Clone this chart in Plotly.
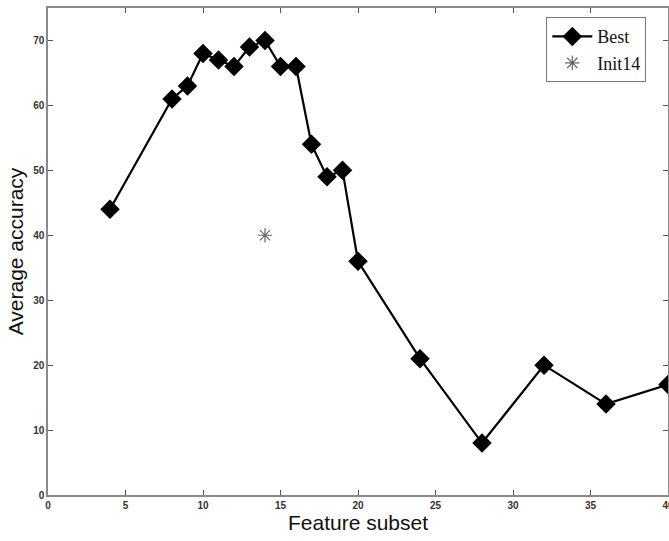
import plotly.graph_objects as go

# Best accuracy per feature subset size
subset_sizes = [4, 8, 9, 10, 11, 12, 13, 14, 15, 16, 17, 18, 19, 20, 24, 28, 32, 36, 40]
best_accuracy = [44, 61, 63, 68, 67, 66, 69, 70, 66, 66, 54, 49, 50, 36, 21, 8, 20, 14, 17]

# Initial configuration with 14 features
init_size = [14]
init_accuracy = [40]

x_ticks = [0, 5, 10, 15, 20, 25, 30, 35, 40]
y_ticks = [0, 10, 20, 30, 40, 50, 60, 70]

fig = go.Figure()
fig.add_trace(go.Scatter(
    x=subset_sizes, y=best_accuracy, name="Best",
    mode="lines+markers",
    line=dict(color="black", width=2.2),
    marker=dict(symbol="diamond", size=15, color="black"),
    cliponaxis=False,
))
fig.add_trace(go.Scatter(
    x=init_size, y=init_accuracy, name="Init14",
    mode="markers",
    marker=dict(symbol="asterisk-open", size=12, color="#666666",
                line=dict(color="#666666", width=1.2)),
))

axis_common = dict(
    showgrid=False, zeroline=False,
    showline=True, linecolor="#8a8a8a", linewidth=1.5, mirror="ticks",
    ticks="inside", ticklen=5, tickcolor="#555555", tickwidth=1,
    tickfont=dict(family="Liberation Sans, Arial", size=10, color="#333333", weight="bold"),
    ticklabeloverflow="allow",
    automargin=False,
)

fig.update_xaxes(
    range=[0, 40], tickvals=x_ticks, ticktext=[str(v) for v in x_ticks],
    title=dict(text="Feature subset", font=dict(family="Liberation Sans, Arial", size=21, color="#111111"), standoff=6),
    **axis_common,
)
fig.update_yaxes(
    range=[0, 75], tickvals=y_ticks, ticktext=[str(v) for v in y_ticks],
    title=dict(text="Average accuracy", font=dict(family="Liberation Sans, Arial", size=21, color="#111111"), standoff=4),
    **axis_common,
)

fig.update_layout(
    width=669, height=541,
    margin=dict(l=48, r=1, t=8, b=46),
    plot_bgcolor="white", paper_bgcolor="white",
    legend=dict(
        x=0.965, y=0.981, xanchor="right", yanchor="top",
        bgcolor="white", bordercolor="#777777", borderwidth=1,
        font=dict(family="Liberation Serif, Times New Roman", size=18, color="#111111"),
        itemwidth=40, tracegroupgap=0,
    ),
)

fig.write_html("out.html")
